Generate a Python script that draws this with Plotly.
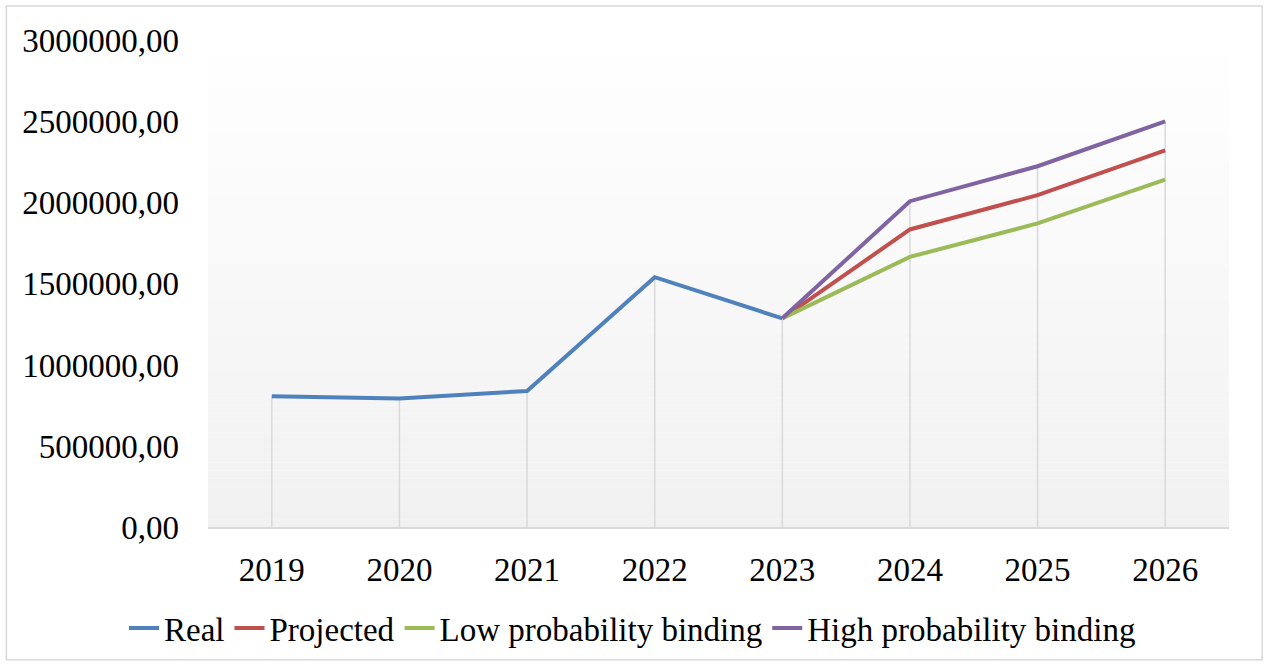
import plotly.graph_objects as go

years = ["2019", "2020", "2021", "2022", "2023", "2024", "2025", "2026"]

real = [808000, 793000, 840000, 1540000, 1287000, None, None, None]
projected = [None, None, None, None, 1287000, 1834000, 2045000, 2321000]
low_binding = [None, None, None, None, 1287000, 1665000, 1871000, 2141000]
high_binding = [None, None, None, None, 1287000, 2008000, 2223000, 2499000]

y_ticks = [0, 500000, 1000000, 1500000, 2000000, 2500000, 3000000]

series = [
    ("Real", real, "#4f81bd"),
    ("Projected", projected, "#c0504d"),
    ("Low probability binding", low_binding, "#9bbb59"),
    ("High probability binding", high_binding, "#8064a2"),
]

FONT = "Liberation Serif, Times New Roman, serif"
FS = 33

fig = go.Figure()

# drop lines: from the axis up to the highest value in each year
drop_x, drop_y = [], []
for i, yr in enumerate(years):
    vals = [s[1][i] for s in series if s[1][i] is not None]
    drop_x += [yr, yr, None]
    drop_y += [0, max(vals), None]
fig.add_trace(go.Scatter(
    x=drop_x, y=drop_y, mode="lines",
    line=dict(color="#d9d9d9", width=1.5),
    showlegend=False, hoverinfo="skip",
))

for name, vals, color in series:
    fig.add_trace(go.Scatter(
        x=years, y=vals, name=name, mode="lines",
        line=dict(color=color, width=4),
        connectgaps=False,
    ))

# plot-area gradient, white at the top fading to light grey at the bottom
shapes = []
n_bands = 60
top_rgb = (255, 255, 255)
bot_rgb = (241, 241, 241)
for k in range(n_bands):
    t = (k + 0.5) / n_bands
    c = tuple(round(top_rgb[j] + (bot_rgb[j] - top_rgb[j]) * t) for j in range(3))
    shapes.append(dict(
        type="rect", xref="x domain", yref="y domain",
        x0=0, x1=1, y0=1 - (k + 1) / n_bands, y1=1 - k / n_bands,
        fillcolor="rgb(%d,%d,%d)" % c, line=dict(width=0), layer="below",
    ))

# outer chart frame
shapes.append(dict(
    type="rect", xref="paper", yref="paper",
    x0=-0.1975, x1=1.0325, y0=-0.2715, y1=1.0695,
    line=dict(color="#d9d9d9", width=1.5), fillcolor="rgba(0,0,0,0)", layer="below",
))

fig.update_layout(
    width=1265, height=666,
    margin=dict(l=208, r=36, t=40, b=137),
    paper_bgcolor="white",
    plot_bgcolor="rgba(0,0,0,0)",
    separators=", ",
    font=dict(family=FONT, size=FS, color="black"),
    shapes=shapes,
    showlegend=True,
    legend=dict(
        orientation="h", xref="container", yref="container",
        x=0.5, xanchor="center", y=0.057, yanchor="middle",
        font=dict(family=FONT, size=FS, color="black"),
        itemwidth=30, tracegroupgap=0,
        bgcolor="rgba(0,0,0,0)",
    ),
    xaxis=dict(
        type="category", categoryorder="array", categoryarray=years,
        showgrid=False, zeroline=False,
        showline=True, linecolor="#d9d9d9", linewidth=2,
        ticks="", ticklabelstandoff=12,
        tickfont=dict(family=FONT, size=FS, color="black"),
        range=[-0.5, len(years) - 0.5],
    ),
    yaxis=dict(
        range=[0, 3000000], tickvals=y_ticks, tickformat=".2f",
        showgrid=False, zeroline=False, showline=False,
        ticks="", ticklabelstandoff=28,
        tickfont=dict(family=FONT, size=FS, color="black"),
    ),
)

fig.write_html("out.html")
